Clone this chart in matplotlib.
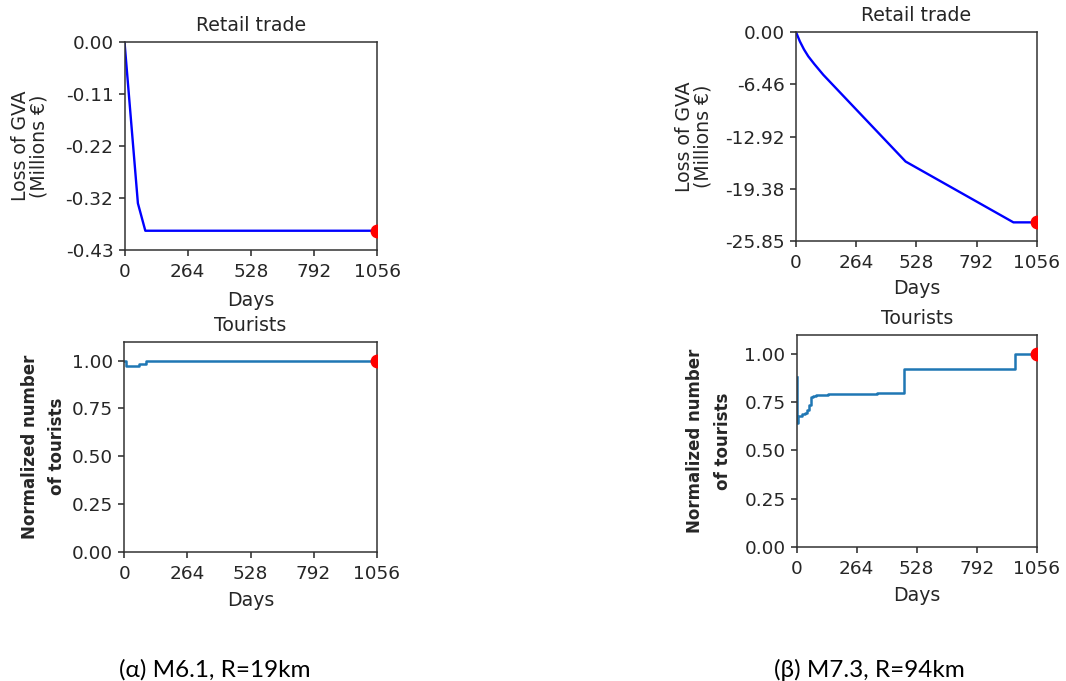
import numpy as np
import matplotlib
matplotlib.use("Agg")
import matplotlib.pyplot as plt

# ---------------- data ----------------
x_ticks = [0, 264, 528, 792, 1056]
x_tick_labels = ["0", "264", "528", "792", "1056"]

# (a) M6.1, R=19km
retail_a_days = [0, 56, 87, 1056]
retail_a_vals = [0.0, -0.335, -0.392, -0.392]
retail_a_ymin = -0.432
retail_a_ytick_labels = ["-0.43", "-0.32", "-0.22", "-0.11", "0.00"]

tour_a_days = [0, 8, 53, 60, 85, 90, 1056]
tour_a_vals = [1.0, 0.97, 0.97, 0.985, 0.985, 1.0, 1.0]

# (b) M7.3, R=94km
retail_b_days = [0, 17, 35, 54, 80, 120, 481, 954, 1056]
retail_b_vals = [0.0, -1.16, -2.15, -3.01, -3.95, -5.3, -16.02, -23.54, -23.54]
retail_b_ymin = -25.846
retail_b_ytick_labels = ["-25.85", "-19.38", "-12.92", "-6.46", "0.00"]

tour_b_days = [0, 3, 7, 22, 37, 44, 56, 62, 73, 85, 139, 352, 474, 474, 961, 961, 1056]
tour_b_vals = [0.88, 0.645, 0.677, 0.69, 0.695, 0.712, 0.738, 0.778, 0.781, 0.79, 0.795, 0.80, 0.80, 0.925, 0.925, 1.0, 1.0]
tour_yticks = [0.0, 0.25, 0.5, 0.75, 1.0]
tour_ytick_labels = ["0.00", "0.25", "0.50", "0.75", "1.00"]

captions = ["(\u03b1) M6.1, R=19km", "(\u03b2) M7.3, R=94km"]

# ---------------- style ----------------
FS = 13.6
TFS = 13.3
plt.rcParams.update({
    "font.family": "DejaVu Sans",
    "font.size": FS,
    "xtick.labelsize": TFS,
    "ytick.labelsize": TFS,
    "xtick.major.pad": 5,
    "axes.linewidth": 1.1,
    "xtick.major.size": 4.5,
    "ytick.major.size": 4.5,
    "xtick.major.width": 1.1,
    "ytick.major.width": 1.1,
    "text.color": "#262626",
    "xtick.color": "#262626",
    "ytick.color": "#262626",
    "axes.labelcolor": "#262626",
    "axes.edgecolor": "#333333",
})

fig = plt.figure(figsize=(10.66, 6.81), dpi=100)

ax_ra = fig.add_axes([0.1168, 0.6329, 0.2369, 0.3054])
ax_rb = fig.add_axes([0.7467, 0.6461, 0.2258, 0.3069])
ax_ta = fig.add_axes([0.1166, 0.1899, 0.2368, 0.3084])
ax_tb = fig.add_axes([0.7474, 0.1972, 0.2251, 0.3109])


def retail(ax, d, v, ymin, labels, ypad, xpad):
    ax.plot(d, v, color="blue", lw=1.7)
    ax.plot([d[-1]], [v[-1]], "o", color="red", ms=9, clip_on=True, zorder=5)
    ax.set_xlim(0, 1056)
    ax.set_ylim(ymin, 0)
    ax.set_yticks(np.linspace(ymin, 0, 5))
    ax.set_yticklabels(labels)
    ax.set_xticks(x_ticks)
    ax.set_xticklabels(x_tick_labels)
    ax.set_title("Retail trade", fontsize=FS, pad=8)
    ax.set_xlabel("Days", labelpad=xpad)
    ax.set_ylabel("Loss of GVA\n(Millions \u20ac)", labelpad=ypad, linespacing=0.95)


def tourists(ax, d, v, ypad, xpad):
    ax.plot(d, v, color="#1f77b4", lw=1.8, drawstyle="steps-post")
    ax.plot([d[-1]], [v[-1]], "o", color="red", ms=9, clip_on=True, zorder=5)
    ax.set_xlim(0, 1056)
    ax.set_ylim(0, 1.1)
    ax.set_yticks(tour_yticks)
    ax.set_yticklabels(tour_ytick_labels)
    ax.set_xticks(x_ticks)
    ax.set_xticklabels(x_tick_labels)
    ax.set_title("Tourists", fontsize=FS, pad=8)
    ax.set_xlabel("Days", labelpad=xpad)
    ax.set_ylabel("Normalized number\nof tourists", labelpad=ypad, linespacing=1.7,
                  fontweight="bold", fontsize=12)


retail(ax_ra, retail_a_days, retail_a_vals, retail_a_ymin, retail_a_ytick_labels, 12, 7)
retail(ax_rb, retail_b_days, retail_b_vals, retail_b_ymin, retail_b_ytick_labels, 9, 5)
tourists(ax_ta, tour_a_days, tour_a_vals, 4, 6)
tourists(ax_tb, tour_b_days, tour_b_vals, 9, 6)

fig.text(215 / 1066, 1 - 670 / 681, captions[0], ha="center", va="center",
         fontsize=17.5, family="Lato", color="black")
fig.text(869 / 1066, 1 - 670 / 681, captions[1], ha="center", va="center",
         fontsize=17.5, family="Lato", color="black")

fig.savefig("out.png", dpi=100, facecolor="white")
